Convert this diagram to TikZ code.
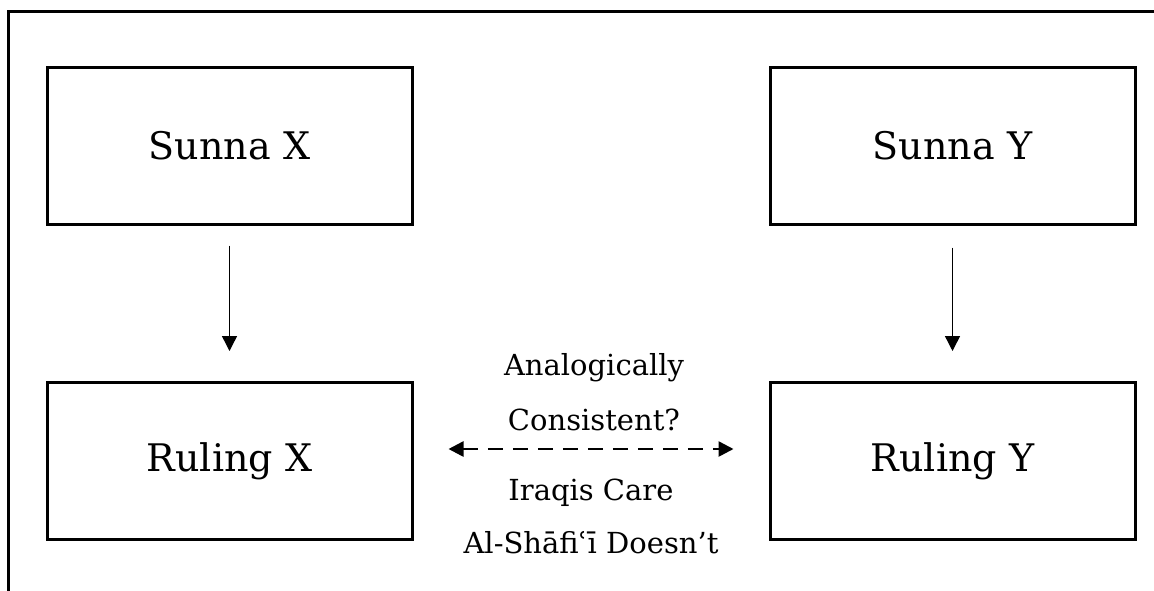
\documentclass[tikz,border=0pt]{standalone}
\usepackage{fontspec}
\setmainfont{DejaVu Serif}
\usetikzlibrary{arrows.meta,positioning}
\tikzset{
  box/.style={draw,line width=1.5pt,minimum width=182.5pt,minimum height=78.5pt,
    inner sep=0pt,font=\fontsize{19}{23}\selectfont},
  lbl/.style={inner sep=0pt,anchor=base,font=\fontsize{14.5}{18}\selectfont},
  down/.style={-{Triangle[length=7.5pt,width=7.5pt]},line width=0.7pt},
  both/.style={{Triangle[length=7.5pt,width=7.5pt]}-{Triangle[length=7.5pt,width=7.5pt]},
    line width=1.3pt,dash pattern=on 7.5pt off 5pt}
}
\begin{document}
\begin{tikzpicture}[x=0.5pt,y=-0.5pt]
    \useasboundingbox (0,0) rectangle (1154,590);
    % outer frame (cut off at the right and bottom)
    \draw[line width=1.5pt] (8,600) -- (8,11) -- (1170,11);
    % the four boxes
    \node[box] (sunnaX) at (229.5,145.5) {Sunna X};
    \node[box] (sunnaY) at (952.5,145.5) {Sunna Y};
    \node[box] (rulingX) at (229.5,461) {Ruling X};
    \node[box] (rulingY) at (952.5,461) {Ruling Y};
    \draw[down,shorten <=10pt,shorten >=15pt] (sunnaX) -- (rulingX);
    \draw[down,shorten <=11pt,shorten >=15pt] (sunnaY) -- (rulingY);
    % analogy between the rulings
    \draw[both,shorten <=17.5pt,shorten >=17.5pt] ([yshift=6pt]rulingX.east) -- ([yshift=6pt]rulingY.west);
    \node[lbl] (q1) at (594,375) {Analogically};
    \node[lbl] (q2) at (594,430) {Consistent?};
    \node[lbl] (a1) at (591,500) {Iraqis Care};
    \node[lbl] (a2) at (591,553) {Al-Shāfiʿī Doesn’t};
\end{tikzpicture}
\end{document}
